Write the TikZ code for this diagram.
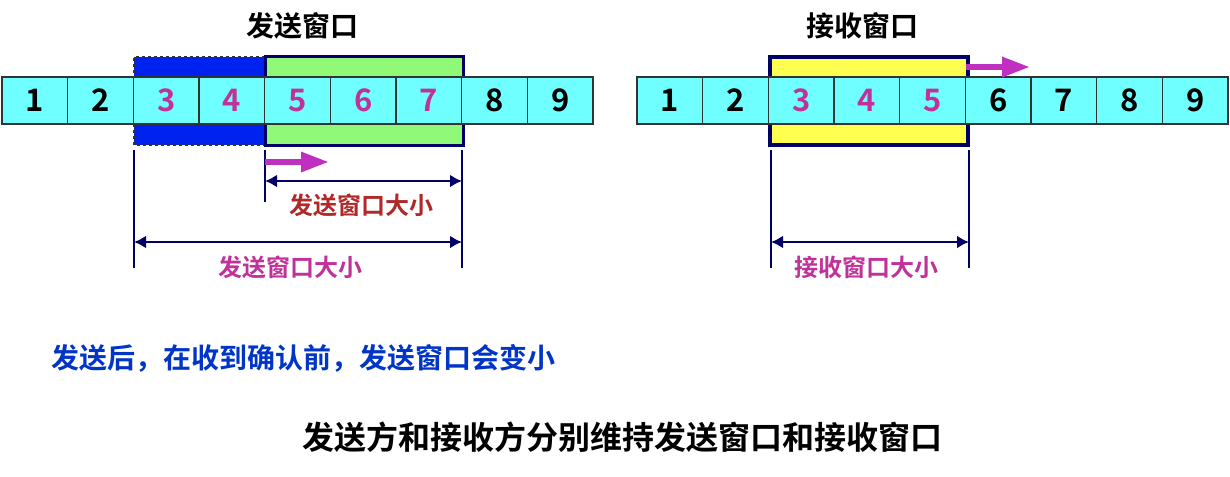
\documentclass[tikz,border=0pt]{standalone}
\usepackage{fontspec}
\setmainfont{Noto Sans CJK SC}[BoldFont={Noto Sans CJK SC Bold}]
\usepackage{xcolor}
\usepackage{tikz}
\usetikzlibrary{arrows.meta,positioning,calc}
\definecolor{cellcyan}{HTML}{70FFFF}
\definecolor{numpink}{HTML}{C0329A}
\definecolor{winnavy}{HTML}{000066}
\definecolor{sentblue}{HTML}{0022EE}
\definecolor{wingreen}{HTML}{90FA78}
\definecolor{winyellow}{HTML}{FFFF50}
\definecolor{slidemag}{HTML}{C030C0}
\definecolor{sizered}{HTML}{B02828}
\definecolor{noteblue}{HTML}{0035C8}

\begin{document}
\begin{tikzpicture}[x=1pt, y=-1pt,
  cell/.style={draw=black!80, line width=1.5pt, fill=cellcyan, minimum width=65.67pt,
    minimum height=47pt, inner sep=0pt, font=\fontsize{31}{31}\selectfont\bfseries},
  wintitle/.style={font=\fontsize{28}{28}\selectfont\bfseries},
  sizelbl/.style={font=\fontsize{24}{24}\selectfont\bfseries},
  bar/.style={winnavy, line width=2.5pt},
  dimarrow/.style={winnavy, line width=2.8pt, {Latex[length=12pt,width=13pt]}-{Latex[length=12pt,width=13pt]}},
  slide/.style={slidemag, line width=6pt, -{Triangle[length=28pt,width=19pt]}}]
\useasboundingbox (0,0) rectangle (1230,476);
% Sender window
\fill[sentblue] (134,57) rectangle (265,145);
\draw[black!80, line width=1.2pt, dashed] (265,57) -- (134,57) -- (134,145) -- (265,145);
\draw[winnavy, fill=wingreen, line width=3pt] (265,57) rectangle (463,145);
\foreach \i/\c in {1/black,2/black,3/numpink,4/numpink,5/numpink,6/numpink,7/numpink,8/black,9/black}
  \node[cell, text=\c] (s\i) at ({2+65.67*(\i-0.5)},100.5) {\i};
\node[wintitle] (stitle) at (302,26) {发送窗口};
% Receiver window
\draw[winnavy, fill=winyellow, line width=3.5pt] (770,57) rectangle (968,145);
\foreach \i/\c in {1/black,2/black,3/numpink,4/numpink,5/numpink,6/black,7/black,8/black,9/black}
  \node[cell, text=\c] (r\i) at ({637+65.67*(\i-0.5)},100.5) {\i};
\node[wintitle] (rtitle) at (862,26) {接收窗口};
% Bars and sizes, sender
\coordinate (sa) at (134,150); \coordinate (sa') at (134,268);
\coordinate (sb) at (265,150); \coordinate (sb') at (265,202);
\coordinate (sc) at (462,150); \coordinate (sc') at (462,268);
\draw[bar] (sa) -- (sa');
\draw[bar] (sb) -- (sb');
\draw[bar] (sc) -- (sc');
\coordinate (sm) at (265,162); \coordinate (sm') at (329,162);
\draw[slide] (sm) -- (sm');
\draw[dimarrow] (sb |- 0,181) -- (sc |- 0,181);
\draw[dimarrow] (sa |- 0,242) -- (sc |- 0,242);
\node[sizelbl, text=sizered] (snow) at (361,205) {发送窗口大小};
\node[sizelbl, text=numpink] (sold) at (290,267) {发送窗口大小};
% Bars and sizes, receiver
\coordinate (ra) at (771,150); \coordinate (ra') at (771,268);
\coordinate (rb) at (969,150); \coordinate (rb') at (969,268);
\draw[bar] (ra) -- (ra');
\draw[bar] (rb) -- (rb');
\coordinate (rm) at (966,67); \coordinate (rm') at (1030,67);
\draw[slide] (rm) -- (rm');
\draw[dimarrow] (ra |- 0,242) -- (rb |- 0,242);
\node[sizelbl, text=numpink] (rsize) at (866,267) {接收窗口大小};
% Notes
\node[font=\fontsize{28}{28}\selectfont\bfseries, text=noteblue, anchor=west] (note) at (48,358) {发送后，在收到确认前，发送窗口会变小};
\node[font=\fontsize{32}{32}\selectfont\bfseries] (caption) at (622,437) {发送方和接收方分别维持发送窗口和接收窗口};
\end{tikzpicture}
\end{document}
